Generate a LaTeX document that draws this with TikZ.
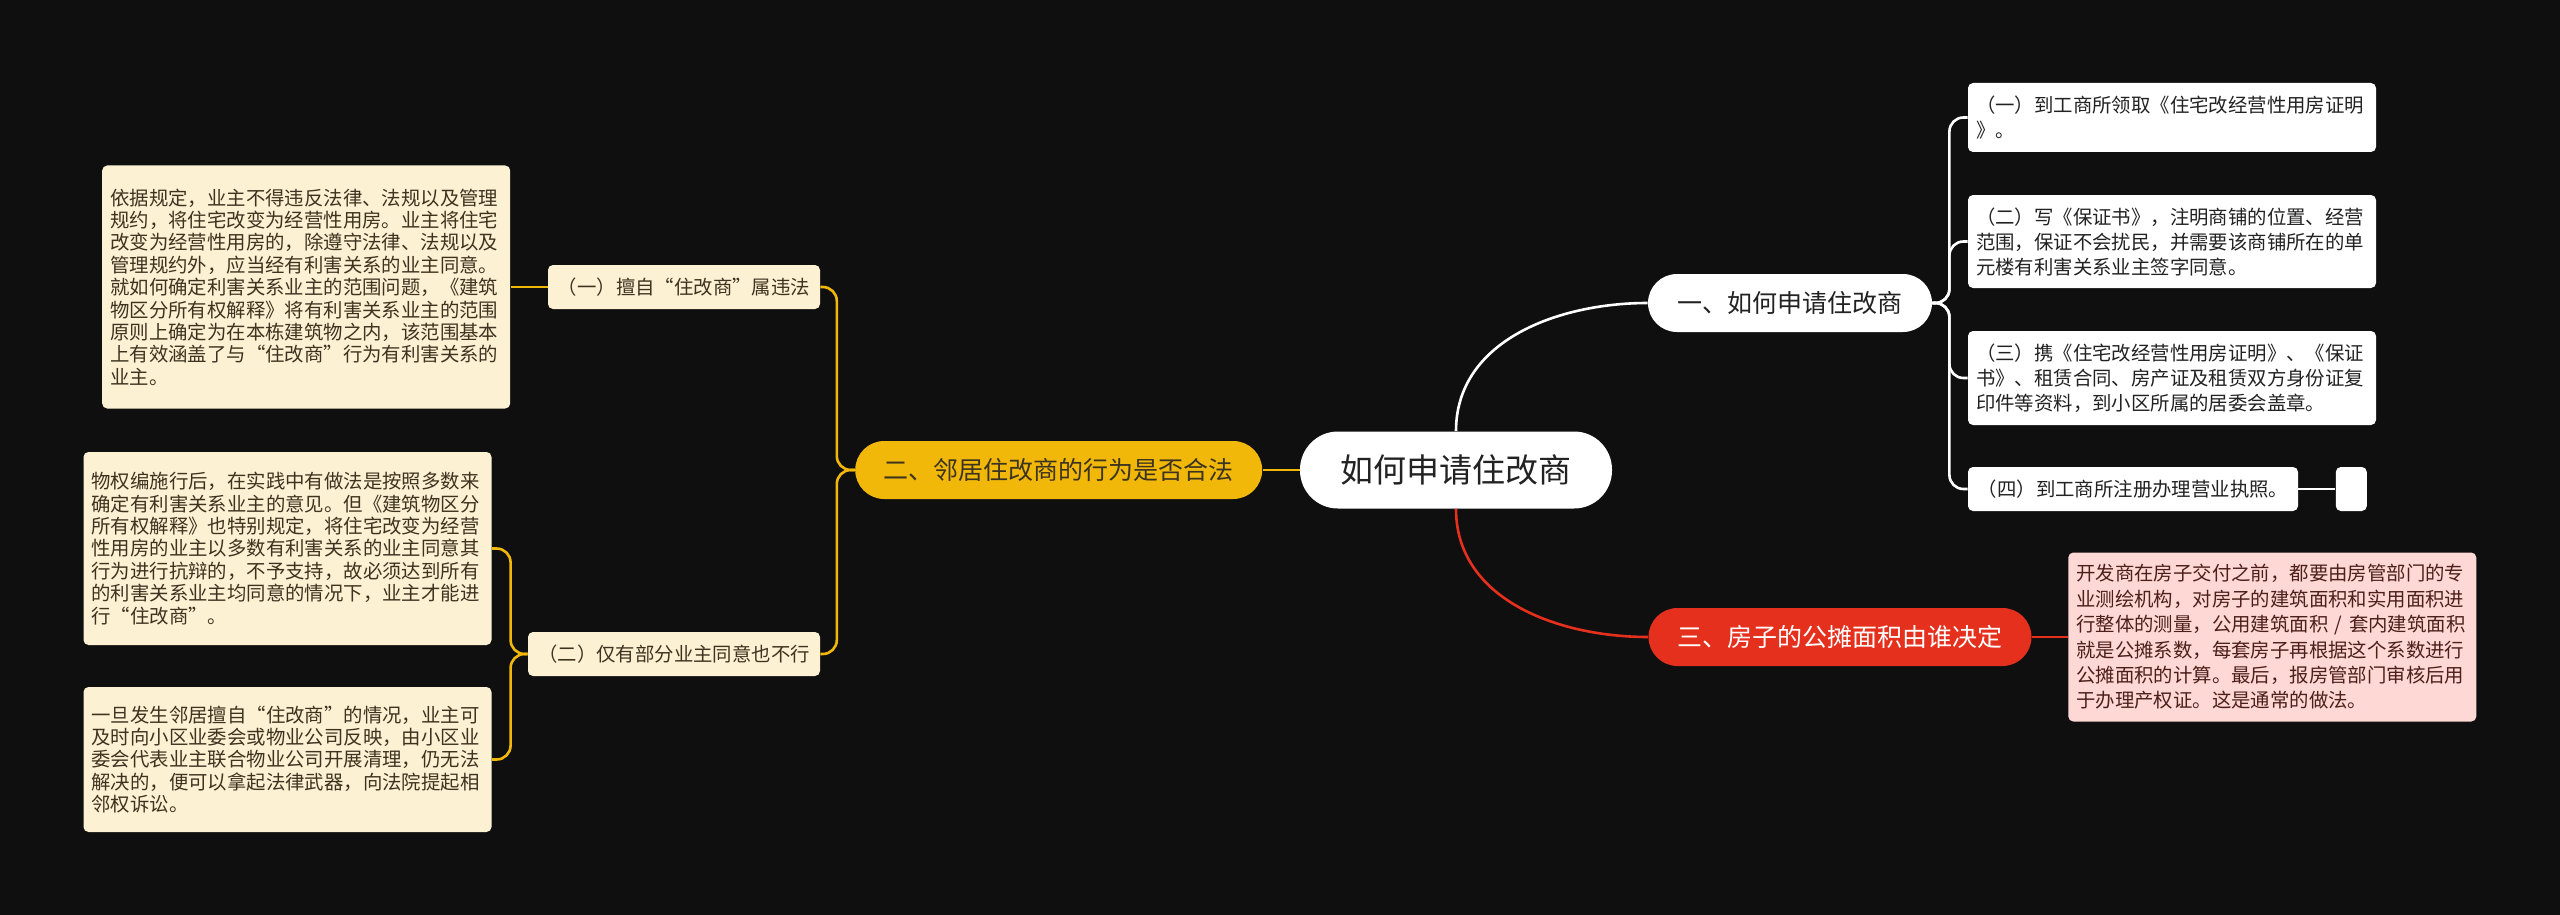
\documentclass[tikz,border=0pt]{standalone}
\usepackage{fontspec}
\setmainfont{Noto Sans CJK SC}
\usetikzlibrary{positioning}
\definecolor{MMbg}{HTML}{0F0F0F}
\definecolor{MMink}{HTML}{222222}
\definecolor{MMyellow}{HTML}{F1B80A}
\definecolor{MMcream}{HTML}{FDF1D4}
\definecolor{MMbrown}{HTML}{3D3420}
\definecolor{MMred}{HTML}{E5301D}
\definecolor{MMpink}{HTML}{FDD8D4}
\definecolor{MMwine}{HTML}{4D1F1A}
\tikzset{mmroot/.style={fill=white,text=MMink,rounded corners=19pt,minimum width=156pt,
 minimum height=38.5pt,inner sep=0pt,font=\fontsize{16.5}{20}\selectfont},
 mmbranch/.style={rounded corners=14.5pt,minimum height=29pt,inner sep=0pt,
 font=\fontsize{12.5}{15}\selectfont},
 mmsub/.style={fill=MMcream,text=MMbrown,rounded corners=2.5pt,minimum height=22pt,
 inner sep=0pt,font=\fontsize{9.7}{11.2}\selectfont},
 mmleaf/.style={fill=MMcream,text=MMbrown,rounded corners=2.5pt,align=left,text width=196pt,
 inner xsep=4pt,inner ysep=0pt,font=\fontsize{9.7}{11.2}\selectfont},
 mmnote/.style={fill=white,text=MMink,rounded corners=2.5pt,align=left,text width=196pt,
 inner xsep=4pt,inner ysep=0pt,font=\fontsize{9.7}{12.5}\selectfont},
 mmlink/.style={line width=1.3pt,rounded corners=7pt}}

\begin{document}
\begin{tikzpicture}[x=0.5pt,y=-0.5pt]
\fill[MMbg] (0,0) rectangle (2560,915);
\useasboundingbox (0,0) rectangle (2560,915);
\node[mmroot] (root) at (1456,470) {如何申请住改商};
\node[mmbranch,fill=white,text=MMink,minimum width=142pt] (b1) at (1790,303) {一、如何申请住改商};
\node[mmbranch,fill=MMyellow,text=MMbrown,minimum width=203.5pt,left=18.5pt of root] (b2) {二、邻居住改商的行为是否合法};
\node[mmbranch,fill=MMred,text=white,minimum width=191.5pt] (b3) at (1840,637) {三、房子的公摊面积由谁决定};
\node[mmsub,minimum width=136pt] (s1) at (684,287) {（一）擅自“住改商”属违法};
\node[mmsub,minimum width=146pt] (s2) at (674,654) {（二）仅有部分业主同意也不行};
\node[mmleaf,minimum height=121.5pt,left=18.5pt of s1] (l1) {依据规定，业主不得违反法律、法规以及管理\\
规约，将住宅改变为经营性用房。业主将住宅\\
改变为经营性用房的，除遵守法律、法规以及\\
管理规约外，应当经有利害关系的业主同意。\\
就如何确定利害关系业主的范围问题，《建筑\\
物区分所有权解释》将有利害关系业主的范围\\
原则上确定为在本栋建筑物之内，该范围基本\\
上有效涵盖了与“住改商”行为有利害关系的\\
业主。};
\node[mmleaf,minimum height=96.5pt] (l2) at (287.5,548.5) {物权编施行后，在实践中有做法是按照多数来\\
确定有利害关系业主的意见。但《建筑物区分\\
所有权解释》也特别规定，将住宅改变为经营\\
性用房的业主以多数有利害关系的业主同意其\\
行为进行抗辩的，不予支持，故必须达到所有\\
的利害关系业主均同意的情况下，业主才能进\\
行“住改商”。};
\node[mmleaf,minimum height=72.5pt] (l3) at (287.5,759.5) {一旦发生邻居擅自“住改商”的情况，业主可\\
及时向小区业委会或物业公司反映，由小区业\\
委会代表业主联合物业公司开展清理，仍无法\\
解决的，便可以拿起法律武器，向法院提起相\\
邻权诉讼。};
\node[mmnote,minimum height=34.5pt] (c1) at (2172,117.5) {（一）到工商所领取《住宅改经营性用房证明\\
》。};
\node[mmnote,minimum height=46.5pt] (c2) at (2172,241.5) {（二）写《保证书》，注明商铺的位置、经营\\
范围，保证不会扰民，并需要该商铺所在的单\\
元楼有利害关系业主签字同意。};
\node[mmnote,minimum height=47pt] (c3) at (2172,378) {（三）携《住宅改经营性用房证明》、《保证\\
书》、租赁合同、房产证及租赁双方身份证复\\
印件等资料，到小区所属的居委会盖章。};
\node[mmsub,fill=white,text=MMink,minimum width=165pt] (c4) at (2133,489) {（四）到工商所注册办理营业执照。};
\node[mmsub,fill=white,minimum width=15.5pt,right=18.5pt of c4] (c5) {};
\node[mmnote,fill=MMpink,text=MMwine,font=\fontsize{9.7}{12.7}\selectfont,minimum height=84.5pt,right=18pt of b3] (p1) {开发商在房子交付之前，都要由房管部门的专\\
业测绘机构，对房子的建筑面积和实用面积进\\
行整体的测量，公用建筑面积 / 套内建筑面积\\
就是公摊系数，每套房子再根据这个系数进行\\
公摊面积的计算。最后，报房管部门审核后用\\
于办理产权证。这是通常的做法。};
\draw[mmlink,MMyellow] (root.west) -- (b2.east);
\draw[mmlink,white] (root.north) to[out=90,in=180] (b1.west);
\draw[mmlink,MMred] (root.south) to[out=-90,in=180] (b3.west);
\foreach \s in {s1,s2} \draw[mmlink,MMyellow] (b2.west) -- ++(-9pt,0) |- (\s.east);
\draw[mmlink,MMyellow] (s1.west) -- (l1.east);
\foreach \l in {l2,l3} \draw[mmlink,MMyellow] (s2.west) -- ++(-8.5pt,0) |- (\l.east);
\foreach \c in {c1,c2,c3,c4} \draw[mmlink,white] (b1.east) -- ++(8.5pt,0) |- (\c.west);
\draw[mmlink,white] (c4.east) -- (c5.west);
\draw[mmlink,MMred] (b3.east) -- (p1.west);
\end{tikzpicture}
\end{document}
